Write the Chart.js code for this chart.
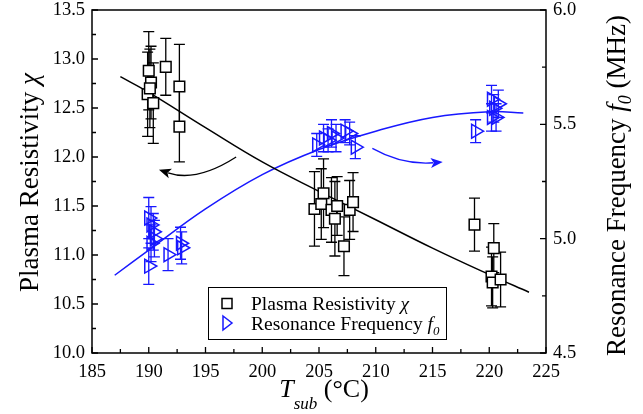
<!DOCTYPE html>
<html>
<head>
<meta charset="utf-8">
<script src="https://cdn.jsdelivr.net/npm/chart.js@4.4.1/dist/chart.umd.min.js"></script>
<style>
html, body { margin: 0; padding: 0; background: #fff; }
#wrap { width: 643px; height: 414px; position: relative; }
</style>
</head>
<body>
<div id="wrap"><canvas id="chart"></canvas></div>
<script>
// plasma resistivity chi (left axis) vs substrate temperature
var chiT   = [190.0, 190.2, 189.9, 190.4, 190.1, 191.5, 192.7, 192.7,
              204.6, 205.2, 205.4, 206.1, 206.4, 206.6, 207.2, 207.7, 208.0,
              218.7, 220.4, 220.2, 220.3, 221.0];
var chiVal = [12.88, 12.76, 12.64, 12.55, 12.70, 12.92, 12.72, 12.31,
              11.47, 11.52, 11.63, 11.46, 11.37, 11.50, 11.09, 11.46, 11.54,
              11.31, 11.07, 10.78, 10.72, 10.75];
var chiErr = [0.40, 0.37, 0.43, 0.41, 0.40, 0.29, 0.43, 0.36,
              0.38, 0.36, 0.35, 0.33, 0.38, 0.30, 0.30, 0.30, 0.30,
              0.27, 0.25, 0.30, 0.26, 0.28];

// resonance frequency f0 (right axis, MHz)
var freqT   = [190.0, 190.2, 190.4, 190.5, 190.2, 190.0, 191.7, 192.8, 192.9,
               204.8, 205.4, 206.1, 206.5, 207.3, 207.7, 208.2, 205.8,
               218.8, 220.2, 220.8, 220.4, 220.2, 220.6];
var freqVal = [5.09, 5.06, 5.03, 5.00, 4.98, 4.88, 4.93, 4.98, 4.96,
               5.41, 5.44, 5.46, 5.44, 5.47, 5.46, 5.40, 5.43,
               5.47, 5.61, 5.59, 5.57, 5.53, 5.53];
var freqErr = [0.09, 0.08, 0.08, 0.08, 0.08, 0.08, 0.07, 0.07, 0.07,
               0.05, 0.06, 0.06, 0.06, 0.05, 0.05, 0.05, 0.05,
               0.05, 0.06, 0.06, 0.06, 0.06, 0.06];

// fitted guide curves
var chiFitT    = [187.5, 190, 195, 200, 205, 210, 215, 220, 223.5];
var chiFitVal  = [12.82, 12.66, 12.30, 11.95, 11.65, 11.36, 11.07, 10.80, 10.62];
var freqFitT   = [187, 190, 195, 200, 205, 210, 215, 220, 223];
var freqFitVal = [4.84, 4.95, 5.13, 5.28, 5.39, 5.47, 5.53, 5.555, 5.55];

// axis ticks
var xTicks     = [185, 190, 195, 200, 205, 210, 215, 220, 225];
var leftTicks  = [10.0, 10.5, 11.0, 11.5, 12.0, 12.5, 13.0, 13.5];
var rightTicks = [4.5, 5.0, 5.5, 6.0];

var BLUE = '#1818ff';
var SERIF = "'Liberation Serif', 'DejaVu Serif', serif";

function pts(xs, ys) {
    return xs.map(function (x, i) { return { x: x, y: ys[i] }; });
}

function fontOf(p) {
    return (p.italic ? 'italic ' : 'normal ') + p.size + 'px ' + SERIF;
}

// draw a run of text pieces (some italic / subscript) centred on x
function drawRich(ctx, parts, x, y) {
    var total = 0;
    parts.forEach(function (p) {
        ctx.font = fontOf(p);
        p.w = ctx.measureText(p.text).width;
        total += p.w;
    });
    var cx = x - total / 2;
    ctx.textAlign = 'left';
    ctx.textBaseline = 'alphabetic';
    parts.forEach(function (p) {
        ctx.font = fontOf(p);
        ctx.fillText(p.text, cx, y + (p.dy || 0));
        cx += p.w;
    });
}

function drawLeftRich(ctx, parts, x, y) {
    var cx = x;
    ctx.textAlign = 'left';
    ctx.textBaseline = 'alphabetic';
    parts.forEach(function (p) {
        ctx.font = fontOf(p);
        ctx.fillText(p.text, cx, y + (p.dy || 0));
        cx += ctx.measureText(p.text).width;
    });
}

function drawArrow(ctx, p0, c, p2, color) {
    ctx.strokeStyle = color;
    ctx.fillStyle = color;
    ctx.lineWidth = 1.3;
    var ang = Math.atan2(p2[1] - c[1], p2[0] - c[0]);
    var len = 12;
    var bx = p2[0] - Math.cos(ang) * len * 0.8;
    var by = p2[1] - Math.sin(ang) * len * 0.8;
    ctx.beginPath();
    ctx.moveTo(p0[0], p0[1]);
    ctx.quadraticCurveTo(c[0], c[1], bx, by);
    ctx.stroke();
    ctx.beginPath();
    ctx.moveTo(p2[0], p2[1]);
    ctx.lineTo(p2[0] - Math.cos(ang) * len + Math.sin(ang) * 5, p2[1] - Math.sin(ang) * len - Math.cos(ang) * 5);
    ctx.lineTo(p2[0] - Math.cos(ang) * len * 0.75, p2[1] - Math.sin(ang) * len * 0.75);
    ctx.lineTo(p2[0] - Math.cos(ang) * len - Math.sin(ang) * 5, p2[1] - Math.sin(ang) * len + Math.cos(ang) * 5);
    ctx.closePath();
    ctx.fill();
}

var errorBars = {
    id: 'errorBars',
    beforeDatasetsDraw: function (chart) {
        var ctx = chart.ctx;
        var x = chart.scales.x;
        var sets = [
            { t: chiT, v: chiVal, e: chiErr, s: chart.scales.y, c: '#000' },
            { t: freqT, v: freqVal, e: freqErr, s: chart.scales.y1, c: BLUE }
        ];
        ctx.save();
        ctx.lineWidth = 1.3;
        sets.forEach(function (d) {
            ctx.strokeStyle = d.c;
            d.t.forEach(function (t, i) {
                var px = x.getPixelForValue(t);
                var top = d.s.getPixelForValue(d.v[i] + d.e[i]);
                var bot = d.s.getPixelForValue(d.v[i] - d.e[i]);
                ctx.beginPath();
                ctx.moveTo(px, top); ctx.lineTo(px, bot);
                ctx.moveTo(px - 5.5, top); ctx.lineTo(px + 5.5, top);
                ctx.moveTo(px - 5.5, bot); ctx.lineTo(px + 5.5, bot);
                ctx.stroke();
            });
        });
        ctx.restore();
    }
};

var decor = {
    id: 'decor',
    afterDraw: function (chart) {
        var ctx = chart.ctx;
        var a = chart.chartArea;
        var x = chart.scales.x, y = chart.scales.y, y1 = chart.scales.y1;
        ctx.save();

        // frame
        ctx.strokeStyle = '#000';
        ctx.lineWidth = 1.5;
        ctx.strokeRect(a.left, a.top, a.right - a.left, a.bottom - a.top);

        // inward ticks
        ctx.lineWidth = 1.3;
        ctx.beginPath();
        for (var i = 0; i < xTicks.length; i++) {
            var px = x.getPixelForValue(xTicks[i]);
            ctx.moveTo(px, a.bottom); ctx.lineTo(px, a.bottom - 6);
            if (i < xTicks.length - 1) {
                var pm = x.getPixelForValue(xTicks[i] + 2.5);
                ctx.moveTo(pm, a.bottom); ctx.lineTo(pm, a.bottom - 4);
            }
        }
        for (i = 0; i < leftTicks.length; i++) {
            var py = y.getPixelForValue(leftTicks[i]);
            ctx.moveTo(a.left, py); ctx.lineTo(a.left + 6, py);
            if (i < leftTicks.length - 1) {
                var qm = y.getPixelForValue(leftTicks[i] + 0.25);
                ctx.moveTo(a.left, qm); ctx.lineTo(a.left + 4, qm);
            }
        }
        for (i = 0; i < rightTicks.length; i++) {
            var ry = y1.getPixelForValue(rightTicks[i]);
            ctx.moveTo(a.right, ry); ctx.lineTo(a.right - 6, ry);
            if (i < rightTicks.length - 1) {
                var rm = y1.getPixelForValue(rightTicks[i] + 0.25);
                ctx.moveTo(a.right, rm); ctx.lineTo(a.right - 4, rm);
            }
        }
        ctx.stroke();

        // axis titles
        ctx.fillStyle = '#000';
        drawRich(ctx, [
            { text: 'T', size: 26, italic: true },
            { text: 'sub', size: 17, italic: true, dy: 12 },
            { text: ' (\u00B0C)', size: 26 }
        ], (a.left + a.right) / 2 + 5, 397);

        ctx.save();
        ctx.translate(38, (a.top + a.bottom) / 2 + 1);
        ctx.rotate(-Math.PI / 2);
        drawRich(ctx, [
            { text: 'Plasma Resistivity ', size: 27 },
            { text: '\u03C7', size: 27, italic: true }
        ], 0, 0);
        ctx.restore();

        ctx.save();
        ctx.translate(625, (a.top + a.bottom) / 2 + 4);
        ctx.rotate(-Math.PI / 2);
        drawRich(ctx, [
            { text: 'Resonance Frequency ', size: 27 },
            { text: 'f', size: 27, italic: true },
            { text: '0', size: 18, italic: true, dy: 6 },
            { text: ' (MHz)', size: 27 }
        ], 0, 0);
        ctx.restore();

        // legend
        ctx.fillStyle = '#fff';
        ctx.fillRect(208, 287, 239, 53);
        ctx.strokeStyle = '#000';
        ctx.lineWidth = 1;
        ctx.strokeRect(208.5, 287.5, 238, 52);
        ctx.lineWidth = 1.5;
        ctx.strokeRect(222, 298.5, 10, 10);
        ctx.strokeStyle = BLUE;
        ctx.beginPath();
        ctx.moveTo(223, 316); ctx.lineTo(232, 323); ctx.lineTo(223, 330); ctx.closePath();
        ctx.stroke();
        ctx.fillStyle = '#000';
        drawLeftRich(ctx, [
            { text: 'Plasma Resistivity ', size: 19.5 },
            { text: '\u03C7', size: 19.5, italic: true }
        ], 251, 310);
        drawLeftRich(ctx, [
            { text: 'Resonance Frequency ', size: 19.5 },
            { text: 'f', size: 19.5, italic: true },
            { text: '0', size: 13, italic: true, dy: 5 }
        ], 251, 329.5);

        // arrows pointing to each axis
        drawArrow(ctx,
            [x.getPixelForValue(197.7), y.getPixelForValue(12.00)],
            [x.getPixelForValue(194.2), y.getPixelForValue(11.74)],
            [x.getPixelForValue(190.9), y.getPixelForValue(11.87)], '#000');
        drawArrow(ctx,
            [x.getPixelForValue(209.7), y1.getPixelForValue(5.395)],
            [x.getPixelForValue(212.3), y1.getPixelForValue(5.322)],
            [x.getPixelForValue(215.9), y1.getPixelForValue(5.335)], BLUE);

        ctx.restore();
    }
};

var tickFont = { family: SERIF, size: 18.5, lineHeight: 1 };

function fitY(w) {
    return function (s) { s.width = w; s.paddingTop = 0; s.paddingBottom = 0; };
}

new Chart(document.getElementById('chart'), {
    type: 'scatter',
    data: {
        datasets: [
            {
                label: 'Plasma Resistivity',
                data: pts(chiT, chiVal),
                yAxisID: 'y',
                pointStyle: 'rect',
                pointRadius: 7.5,
                pointBorderWidth: 1.5,
                borderColor: '#000',
                backgroundColor: '#fff'
            },
            {
                label: 'Resonance Frequency',
                data: pts(freqT, freqVal),
                yAxisID: 'y1',
                pointStyle: 'triangle',
                rotation: 90,
                pointRadius: 8,
                pointBorderWidth: 1.5,
                borderColor: BLUE,
                backgroundColor: 'rgba(0,0,0,0)'
            },
            {
                data: pts(chiFitT, chiFitVal),
                yAxisID: 'y',
                showLine: true,
                pointRadius: 0,
                borderColor: '#000',
                borderWidth: 1.5,
                tension: 0.4
            },
            {
                data: pts(freqFitT, freqFitVal),
                yAxisID: 'y1',
                showLine: true,
                pointRadius: 0,
                borderColor: BLUE,
                borderWidth: 1.5,
                tension: 0.4
            }
        ]
    },
    options: {
        responsive: true,
        maintainAspectRatio: false,
        animation: false,
        layout: { padding: { left: 0, right: 0, top: 10, bottom: 0 } },
        plugins: {
            legend: { display: false },
            tooltip: { enabled: false }
        },
        scales: {
            x: {
                type: 'linear',
                min: 185, max: 225,
                afterBuildTicks: function (s) { s.ticks = xTicks.map(function (v) { return { value: v }; }); },
                afterFit: function (s) { s.height = 61; s.paddingLeft = 0; s.paddingRight = 0; },
                grid: { display: false, drawTicks: false },
                border: { display: false },
                ticks: { font: tickFont, color: '#000', padding: 10, maxRotation: 0 }
            },
            y: {
                type: 'linear',
                position: 'left',
                min: 10, max: 13.5,
                afterBuildTicks: function (s) { s.ticks = leftTicks.map(function (v) { return { value: v }; }); },
                afterFit: fitY(92),
                grid: { display: false, drawTicks: false },
                border: { display: false },
                ticks: { font: tickFont, color: '#000', padding: 7, callback: function (v) { return v.toFixed(1); } }
            },
            y1: {
                type: 'linear',
                position: 'right',
                min: 4.5, max: 6.0,
                afterBuildTicks: function (s) { s.ticks = rightTicks.map(function (v) { return { value: v }; }); },
                afterFit: fitY(97),
                grid: { display: false, drawTicks: false },
                border: { display: false },
                ticks: { font: tickFont, color: '#000', padding: 7, callback: function (v) { return v.toFixed(1); } }
            }
        }
    },
    plugins: [errorBars, decor]
});
</script>
</body>
</html>
